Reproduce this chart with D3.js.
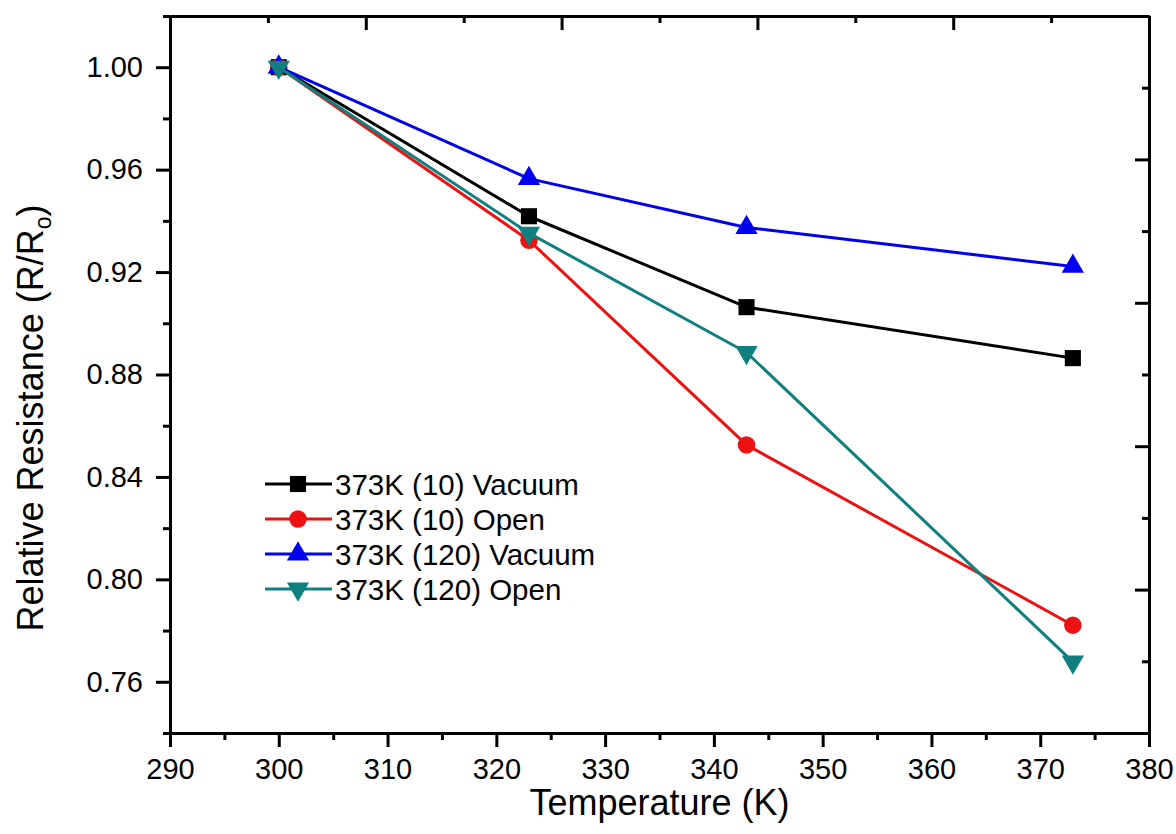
<!DOCTYPE html>
<html>
<head>
<meta charset="utf-8">
<script src="https://cdn.jsdelivr.net/npm/d3@7"></script>
<style>
  body { margin: 0; background: #fff; }
  svg text { font-family: "Liberation Sans", Arial, sans-serif; fill: #000; }
</style>
</head>
<body>
<div id="chart"></div>
<script>
// ===== data =====
const temps = [300, 323, 343, 373];
const vacuum10 = [1.000, 0.9418, 0.9063, 0.8864];
const open10 = [1.000, 0.9324, 0.8525, 0.7821];
const vacuum120 = [1.000, 0.9565, 0.9374, 0.9222];
const open120 = [1.000, 0.9352, 0.8886, 0.7678];
const seriesNames = ["373K (10) Vacuum", "373K (10) Open", "373K (120) Vacuum", "373K (120) Open"];

const xTicks = [290, 300, 310, 320, 330, 340, 350, 360, 370, 380];
const yTicks = [0.76, 0.80, 0.84, 0.88, 0.92, 0.96, 1.00];

const series = [
    { name: seriesNames[0], values: vacuum10, color: "#000000", symbol: d3.symbolSquare, size: 260, rot: 0 },
    { name: seriesNames[1], values: open10, color: "#ee1111", symbol: d3.symbolCircle, size: 240, rot: 0 },
    { name: seriesNames[2], values: vacuum120, color: "#0000ee", symbol: d3.symbolTriangle, size: 215, rot: 0 },
    { name: seriesNames[3], values: open120, color: "#0f7f7f", symbol: d3.symbolTriangle, size: 215, rot: 180 }
];

const width = 1176, height = 834;
const margin = { left: 170, right: 27, top: 16, bottom: 101 };
const innerW = width - margin.left - margin.right;
const innerH = height - margin.top - margin.bottom;

const svg = d3.select("#chart").append("svg")
    .attr("width", width)
    .attr("height", height);

const g = svg.append("g").attr("transform", `translate(${margin.left},${margin.top})`);

const x = d3.scaleLinear().domain([290, 380]).range([0, innerW]);
const y = d3.scaleLinear().domain([0.74, 1.02]).range([innerH, 0]);
// top/right frame axes carry their own 5-division ticks
const xTop = d3.scaleLinear().domain([0, 5]).range([0, innerW]);
const yRight = d3.scaleLinear().domain([0, 5]).range([innerH, 0]);

const halfSteps = (arr) => arr.slice(0, -1).map((v, i) => (v + arr[i + 1]) / 2);

function styleAxis(sel) {
    sel.select(".domain").attr("stroke", "#000").attr("stroke-width", 3);
    sel.selectAll(".tick line").attr("stroke", "#000").attr("stroke-width", 3);
    sel.selectAll(".tick text").style("font-size", "29px");
}

// ===== bottom axis =====
g.append("g")
    .attr("transform", `translate(0,${innerH})`)
    .call(d3.axisBottom(x).tickValues(halfSteps(xTicks)).tickSize(7).tickFormat("").tickSizeOuter(0))
    .call(styleAxis);
g.append("g")
    .attr("transform", `translate(0,${innerH})`)
    .call(d3.axisBottom(x).tickValues(xTicks).tickSize(14).tickPadding(11).tickFormat(d3.format("d")).tickSizeOuter(0))
    .call(styleAxis);

// ===== left axis =====
const yMinor = [0.74, 0.78, 0.82, 0.86, 0.90, 0.94, 0.98, 1.02];
g.append("g")
    .call(d3.axisLeft(y).tickValues(yMinor).tickSize(7).tickFormat("").tickSizeOuter(0))
    .call(styleAxis);
g.append("g")
    .call(d3.axisLeft(y).tickValues(yTicks).tickSize(14).tickPadding(13).tickFormat(d3.format(".2f")).tickSizeOuter(0))
    .call(styleAxis);

// ===== top axis (ticks inward) =====
const frameMajor = d3.range(0, 6);
g.append("g")
    .call(d3.axisBottom(xTop).tickValues(halfSteps(frameMajor)).tickSize(7).tickFormat("").tickSizeOuter(0))
    .call(styleAxis);
g.append("g")
    .call(d3.axisBottom(xTop).tickValues(frameMajor).tickSize(14).tickFormat("").tickSizeOuter(0))
    .call(styleAxis);

// ===== right axis (ticks inward) =====
g.append("g")
    .attr("transform", `translate(${innerW},0)`)
    .call(d3.axisLeft(yRight).tickValues(halfSteps(frameMajor)).tickSize(7).tickFormat("").tickSizeOuter(0))
    .call(styleAxis);
g.append("g")
    .attr("transform", `translate(${innerW},0)`)
    .call(d3.axisLeft(yRight).tickValues(frameMajor).tickSize(14).tickFormat("").tickSizeOuter(0))
    .call(styleAxis);

// ===== lines + markers =====
const line = d3.line()
    .x((d, i) => x(temps[i]))
    .y(d => y(d));

series.forEach(s => {
    g.append("path")
        .datum(s.values)
        .attr("fill", "none")
        .attr("stroke", s.color)
        .attr("stroke-width", 3)
        .attr("stroke-linejoin", "round")
        .attr("d", line);

    g.selectAll(null)
        .data(s.values)
        .enter().append("path")
        .attr("d", d3.symbol().type(s.symbol).size(s.size))
        .attr("transform", (d, i) => `translate(${x(temps[i])},${y(d)}) rotate(${s.rot})`)
        .attr("fill", s.color);
});

// ===== legend =====
const legend = svg.append("g").attr("transform", "translate(265,484)");
series.forEach((s, i) => {
    const row = legend.append("g").attr("transform", `translate(0,${i * 35})`);
    row.append("line")
        .attr("x1", 0).attr("x2", 67)
        .attr("y1", 0).attr("y2", 0)
        .attr("stroke", s.color)
        .attr("stroke-width", 3);
    row.append("path")
        .attr("d", d3.symbol().type(s.symbol).size(s.size))
        .attr("transform", `translate(33,0) rotate(${s.rot})`)
        .attr("fill", s.color);
    row.append("text")
        .attr("x", 70)
        .attr("y", 0)
        .attr("dy", "0.36em")
        .style("font-size", "29.5px")
        .text(s.name);
});

// ===== axis titles =====
svg.append("text")
    .attr("x", margin.left + innerW / 2)
    .attr("y", 815)
    .attr("text-anchor", "middle")
    .style("font-size", "36px")
    .text("Temperature (K)");

const yTitle = svg.append("text")
    .attr("transform", "translate(43,418) rotate(-90)")
    .attr("text-anchor", "middle")
    .style("font-size", "36px");
yTitle.append("tspan").text("Relative Resistance (R/R");
yTitle.append("tspan").attr("dy", 8).style("font-size", "23px").text("o");
yTitle.append("tspan").attr("dy", -8).text(")");
</script>
</body>
</html>
